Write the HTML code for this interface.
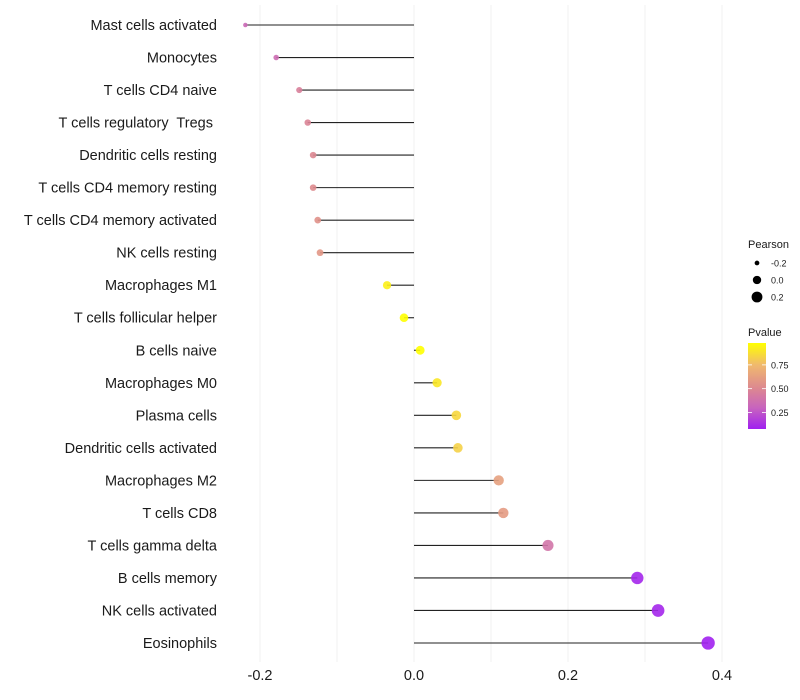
<!DOCTYPE html>
<html><head><meta charset="utf-8"><style>
body{margin:0;background:#fff;}
svg{display:block;font-family:"Liberation Sans",sans-serif;}
text{white-space:pre;}
</style></head><body>
<svg id="chart" width="800" height="700">
<g id="grid"></g>
<g id="marks"></g>
<g id="ylabels"></g>
<g id="xlabels"></g>
<g id="legend"></g>
</svg>
<script>
const categories=["Mast cells activated","Monocytes","T cells CD4 naive","T cells regulatory  Tregs ","Dendritic cells resting","T cells CD4 memory resting","T cells CD4 memory activated","NK cells resting","Macrophages M1","T cells follicular helper","B cells naive","Macrophages M0","Plasma cells","Dendritic cells activated","Macrophages M2","T cells CD8","T cells gamma delta","B cells memory","NK cells activated","Eosinophils"];
const pearson=[-0.219,-0.179,-0.149,-0.138,-0.131,-0.131,-0.125,-0.122,-0.035,-0.013,0.008,0.030,0.055,0.057,0.110,0.116,0.174,0.290,0.317,0.382];
const pvalue=[0.33,0.35,0.46,0.48,0.5,0.52,0.55,0.58,0.93,0.98,0.99,0.9,0.85,0.83,0.63,0.6,0.4,0.1,0.1,0.08];
const xTicks=[-0.2,0.0,0.2,0.4];
const xTickLabels=["-0.2","0.0","0.2","0.4"];
const sizeLegendVals=[-0.2,0.0,0.2];
const colorLegendVals=[0.25,0.5,0.75];
const NS="http://www.w3.org/2000/svg";
const x=v=>414+v*770;
const y=i=>25+i*(643-25)/(categories.length-1);
const r=v=>Math.sqrt(Math.max(2,19.4+65.6*v));
const stops=[[0.076,[160,32,240]],[0.3,[200,100,190]],[0.5,[220,135,145]],[0.75,[240,185,110]],[0.98,[255,255,0]]];
function col(p){
  if(p<=stops[0][0])return `rgb(${stops[0][1]})`;
  for(let k=1;k<stops.length;k++){if(p<=stops[k][0]){const a=stops[k-1],b=stops[k],t=(p-a[0])/(b[0]-a[0]);return `rgb(${a[1].map((c,j)=>Math.round(c+(b[1][j]-c)*t)).join(",")})`;}}
  return `rgb(${stops[stops.length-1][1]})`;
}
function mk(tag,attrs,parent){const e=document.createElementNS(NS,tag);for(const k in attrs)e.setAttribute(k,attrs[k]);parent.appendChild(e);return e;}
const grid=document.getElementById('grid');
for(let v=-0.2;v<=0.41;v+=0.1){
  const g=mk('line',{x1:x(v),x2:x(v),y1:5,y2:662,stroke:'#f0f0f0','stroke-width':1},grid);
  
  
}
const marks=document.getElementById('marks');
const yl=document.getElementById('ylabels');
categories.forEach((c,i)=>{
  const s=mk('line',{x1:x(0),x2:x(pearson[i]),y1:y(i),y2:y(i),stroke:'#222','stroke-width':1.1},marks);
  
  
  const p=mk('circle',{cx:x(pearson[i]),cy:y(i),r:r(pearson[i]),fill:col(pvalue[i]),'fill-opacity':0.9},marks);
  
  
  const t=mk('text',{x:217,y:y(i)+5,'text-anchor':'end','font-size':14.5,fill:'#1a1a1a'},yl);
  t.textContent=c;
  
  
});
const xl=document.getElementById('xlabels');
xTicks.forEach((v,i)=>{
  const t=mk('text',{x:x(v),y:680,'text-anchor':'middle','font-size':14.5,fill:'#1a1a1a'},xl);
  t.textContent=xTickLabels[i];
  
  
});
const lg=document.getElementById('legend');
let lt=mk('text',{x:748,y:248,'font-size':11,fill:'#1a1a1a'},lg);lt.textContent='Pearson';


sizeLegendVals.forEach((v,i)=>{
  const cy=263+i*17;
  const c=mk('circle',{cx:757,cy:cy,r:r(v)*0.95,fill:'#000'},lg);
  
  
  const tt=mk('text',{x:771,y:cy+3.5,'font-size':9,fill:'#1a1a1a'},lg);tt.textContent=v.toFixed(1);
  
  
});
lt=mk('text',{x:748,y:336,'font-size':11,fill:'#1a1a1a'},lg);lt.textContent='Pvalue';


const defs=mk('defs',{},lg);
const gr=mk('linearGradient',{id:'cb',x1:0,y1:1,x2:0,y2:0},defs);
const cbTop=343,cbBot=429,pmin=0.076,pmax=0.98;
stops.forEach(s=>mk('stop',{offset:(s[0]-pmin)/(pmax-pmin),'stop-color':`rgb(${s[1]})`},gr));
const bar=mk('rect',{x:748,y:cbTop,width:18,height:cbBot-cbTop,fill:'url(#cb)'},lg);


colorLegendVals.forEach(v=>{
  const cy=cbBot-(v-pmin)/(pmax-pmin)*(cbBot-cbTop);
  mk('line',{x1:748,x2:752,y1:cy,y2:cy,stroke:'#fff','stroke-width':0.8},lg);
  mk('line',{x1:762,x2:766,y1:cy,y2:cy,stroke:'#fff','stroke-width':0.8},lg);
  const tt=mk('text',{x:771,y:cy+3.5,'font-size':9,fill:'#1a1a1a'},lg);tt.textContent=v.toFixed(2);
  
  
});
</script>
</body></html>
